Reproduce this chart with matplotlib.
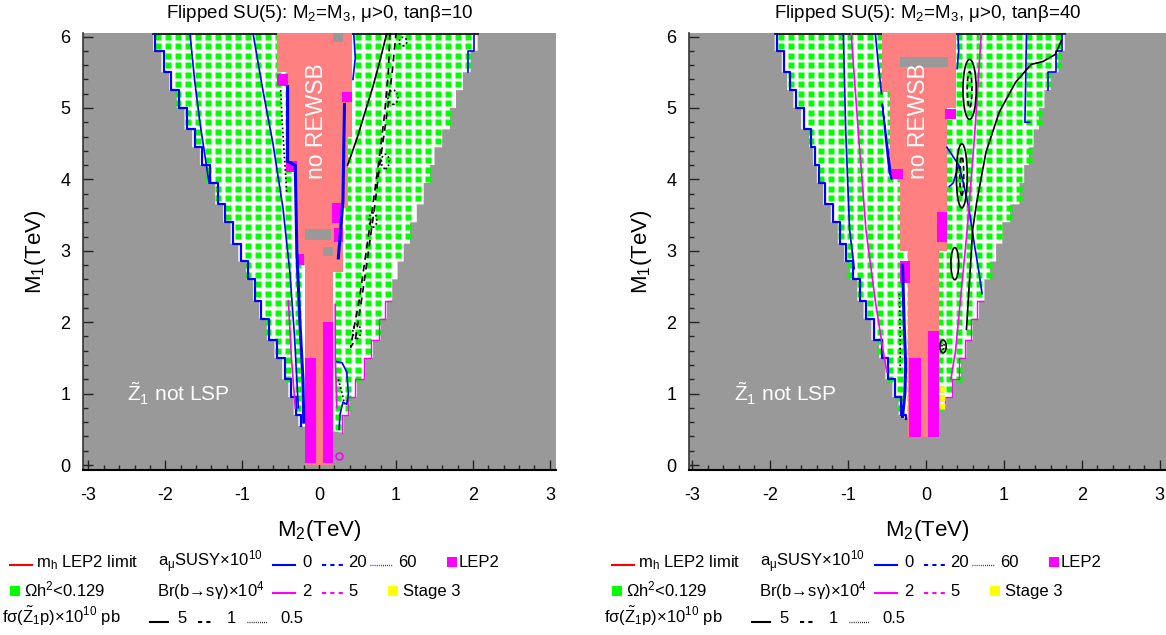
import numpy as np
import matplotlib.pyplot as plt
from matplotlib.patches import Rectangle, Polygon, Ellipse
from matplotlib.lines import Line2D
from matplotlib.path import Path
from matplotlib.ticker import MultipleLocator

plt.rcParams['font.family'] = ['Liberation Sans', 'DejaVu Sans']
plt.rcParams['mathtext.fontset'] = 'custom'
plt.rcParams['mathtext.rm'] = 'Liberation Sans'
plt.rcParams['mathtext.it'] = 'Liberation Sans:italic'
plt.rcParams['mathtext.bf'] = 'Liberation Sans:bold'
plt.rcParams['mathtext.default'] = 'regular'
plt.rcParams['mathtext.fallback'] = 'stixsans'
plt.rcParams['axes.unicode_minus'] = False

GRAY = '#999999'
SALMON = '#ff8080'
MAG = '#ff00ff'
GREEN = '#00ff00'

# staircase levels of the allowed (Z1 LSP) region, M1 in TeV
YS = [6.05, 5.8, 5.5, 5.25, 5.0, 4.7, 4.45, 4.2, 3.95, 3.65, 3.4, 3.1,
      2.85, 2.6, 2.3, 2.05, 1.75, 1.5, 1.2, 0.95, 0.7]

# ---- tan(beta)=10 panel ----
L_xl = [-2.16, -2.05, -1.95, -1.85, -1.75, -1.65, -1.55, -1.45, -1.35, -1.25, -1.15,
        -1.05, -0.95, -0.86, -0.78, -0.68, -0.58, -0.48, -0.40, -0.33, -0.27]
L_xr = [2.06, 1.97, 1.87, 1.78, 1.70, 1.60, 1.50, 1.44, 1.36, 1.27, 1.18,
        1.10, 1.02, 0.95, 0.88, 0.80, 0.70, 0.60, 0.49, 0.40, 0.32]
L_ybot = (0.55, 0.45)
L_salmon_x = [-0.55, -0.55, -0.42, -0.42, -0.29, -0.29, -0.18, -0.18,
              0.18, 0.18, 0.31, 0.31, 0.37, 0.37, 0.43, 0.43]
L_salmon_y = [6.05, 5.5, 5.5, 4.24, 4.24, 2.8, 2.8, 0.0,
              0.0, 2.7, 2.7, 3.6, 3.6, 4.6, 4.6, 6.05]
L_holes = [(0.18, 5.92, 0.13, 0.13), (-0.18, 3.15, 0.33, 0.15), (0.05, 2.92, 0.13, 0.14)]
L_lep2 = [(-0.18, 0.03, 0.14, 1.47), (0.05, 0.03, 0.13, 1.97), (-0.55, 5.31, 0.14, 0.16),
          (-0.43, 4.11, 0.14, 0.15), (0.30, 5.08, 0.13, 0.15), (0.17, 3.39, 0.14, 0.28),
          (0.20, 3.12, 0.11, 0.2), (-0.30, 2.80, 0.10, 0.15)]
L_blue = [([-1.68, -1.62, -1.55, -1.48, -1.43], [6.05, 5.4, 4.8, 4.3, 3.95]),
          ([-0.86, -0.74, -0.6, -0.47, -0.38, -0.32, -0.27], [6.05, 5.3, 4.5, 3.6, 2.7, 1.8, 0.8]),
          ([0.45, 0.47, 0.44], [6.05, 5.7, 5.4]),
          ([0.22, 0.3, 0.36, 0.38, 0.36, 0.31, 0.27, 0.26], [1.45, 1.43, 1.3, 1.0, 0.85, 0.88, 0.7, 0.5]),
          ([2.02, 2.02, 1.93, 1.93], [6.05, 5.8, 5.8, 5.5])]
L_blue_thick = [([-0.41, -0.41, -0.31, -0.29, -0.25, -0.21, -0.2], [5.3, 4.25, 4.2, 3.0, 2.0, 1.2, 0.6]),
                ([0.33, 0.32, 0.31, 0.28, 0.25], [5.05, 4.4, 3.7, 3.3, 2.9])]
L_mag = [([-0.4, -0.36, -0.31], [2.3, 1.5, 0.8]),
         ([0.21, 0.21, 0.23], [2.25, 1.5, 0.8])]
L_black5 = [([0.88, 0.8, 0.7, 0.6, 0.5, 0.42, 0.37], [6.05, 5.7, 5.3, 4.95, 4.6, 4.35, 4.2])]
L_black1 = [([0.92, 0.9, 0.85, 0.77, 0.68, 0.6, 0.52, 0.45, 0.41, 0.47, 0.55, 0.63, 0.72, 0.8, 0.88, 0.95, 1.0],
             [6.05, 5.5, 4.9, 4.2, 3.5, 2.9, 2.3, 1.9, 1.65, 1.75, 2.3, 2.9, 3.6, 4.3, 4.9, 5.5, 6.05])]
L_black05 = [([-0.5, -0.48, -0.45, -0.42], [5.25, 4.8, 4.3, 3.8]),
             ([0.25, 0.3, 0.33], [1.2, 1.0, 0.85])]
L_loops_dot = [(0.96, 5.15, 0.13, 0.2), (0.86, 4.25, 0.1, 0.2), (1.09, 5.93, 0.1, 0.12),
               (0.49, 1.87, 0.1, 0.2), (0.70, 3.43, 0.1, 0.2)]
L_loops_solid = []
L_loops_dash = []
L_stage3 = ([], [])

# ---- tan(beta)=40 panel ----
R_xl = [-1.94, -1.85, -1.78, -1.70, -1.60, -1.50, -1.45, -1.40, -1.32, -1.22, -1.13,
        -1.05, -0.97, -0.88, -0.80, -0.70, -0.60, -0.52, -0.43, -0.35, -0.29]
R_xr = [1.78, 1.70, 1.60, 1.52, 1.45, 1.38, 1.32, 1.26, 1.20, 1.08, 0.98,
        0.90, 0.82, 0.75, 0.68, 0.60, 0.52, 0.45, 0.35, 0.26]
R_ybot = (0.65, 0.8)
R_salmon_x = [-0.56, -0.56, -0.46, -0.46, -0.33, -0.33, -0.23, -0.23,
              0.17, 0.17, 0.27, 0.27, 0.39, 0.39]
R_salmon_y = [6.05, 5.23, 5.23, 4.14, 4.14, 3.0, 3.0, 0.39,
              0.39, 3.0, 3.0, 5.0, 5.0, 6.05]
R_holes = [(-0.33, 5.57, 0.61, 0.14)]
R_lep2 = [(-0.22, 0.39, 0.16, 1.11), (0.03, 0.39, 0.14, 1.48), (-0.43, 4.0, 0.13, 0.14),
          (0.25, 4.84, 0.14, 0.15), (0.14, 3.13, 0.13, 0.42), (-0.33, 2.55, 0.13, 0.3)]
R_blue = [([-1.06, -1.03, -0.98, -0.92], [6.05, 4.7, 3.3, 2.75]),
          ([-0.65, -0.61, -0.57], [6.05, 5.6, 5.2]),
          ([-0.56, -0.44, -0.47, -0.52, -0.56], [5.05, 4.0, 4.1, 4.6, 5.05]),
          ([0.41, 0.42, 0.40], [6.05, 5.8, 5.55]),
          ([0.27, 0.42, 0.35, 0.30], [4.45, 4.2, 3.95, 3.9]),
          ([0.42, 0.47, 0.55, 0.62, 0.68, 0.72], [4.2, 4.0, 3.6, 3.1, 2.7, 2.4]),
          ([1.29, 1.28, 1.27, 1.33], [6.05, 5.4, 4.8, 4.8]),
          ([1.75, 1.75, 1.67, 1.67, 1.57, 1.57], [6.05, 5.8, 5.8, 5.5, 5.5, 5.25])]
R_blue_thick = [([-0.3, -0.28, -0.26, -0.27, -0.3], [2.8, 2.0, 1.4, 1.0, 0.68])]
R_mag = [([-0.96, -0.87, -0.77, -0.65, -0.55, -0.5], [6.05, 4.7, 3.3, 2.3, 1.6, 1.3]),
         ([0.71, 0.63, 0.53, 0.45, 0.38, 0.32], [6.05, 4.7, 3.3, 2.4, 1.6, 1.2])]
R_black5 = [([1.74, 1.66, 1.5, 1.35, 1.15, 0.94, 0.77, 0.65, 0.6, 0.56, 0.52],
             [5.95, 5.75, 5.65, 5.61, 5.36, 4.94, 4.38, 3.67, 3.3, 2.6, 1.9])]
R_black1 = []
R_black05 = [([-0.34, -0.33, -0.33], [2.4, 1.8, 1.3])]
R_loops_solid = [(0.56, 5.26, 0.17, 0.84), (0.46, 4.05, 0.14, 0.9),
                 (0.37, 2.82, 0.1, 0.45), (0.22, 1.66, 0.08, 0.18)]
R_loops_dash = [(0.56, 5.26, 0.06, 0.5), (0.46, 4.05, 0.05, 0.55)]
R_loops_dot = [(0.22, 1.66, 0.03, 0.08)]
R_stage3 = ([0.21, 0.21, 0.21], [1.06, 0.94, 0.83])


def stair(xs, ybot):
    px, py = [], []
    for i, x in enumerate(xs):
        ylow = YS[i + 1] if i + 1 < len(xs) else ybot
        px += [x, x]
        py += [YS[i], ylow]
    return np.array(px), np.array(py)


def draw_panel(ax, title, xlim, p, dx, txt_x, nr_x):
    ax.set_facecolor(GRAY)
    lx, ly = stair(p['xl'], p['ybot'][0])
    rx, ry = stair(p['xr'], p['ybot'][1])
    verts = list(zip(lx, ly)) + list(zip(rx, ry))[::-1]
    ax.add_patch(Polygon(verts, closed=True, fc='white', ec='none', zorder=1))
    # checkered scan points (Omega h^2 < 0.129)
    gx, gy = np.meshgrid(np.arange(-3.0, 3.0, dx), np.arange(6.0, 0.0, -0.1333))
    pts = np.column_stack([gx.ravel(), gy.ravel()])
    inside = Path(verts).contains_points(pts)
    ax.plot(pts[inside, 0], pts[inside, 1], 's', ms=3.7, color=GREEN, mec='none', zorder=2)
    ax.plot([p['xl'][0], p['xr'][0]], [6.04, 6.04], color='black', lw=1.2, zorder=3)
    # boundary contours
    ax.plot(lx + 0.03, ly, color='blue', lw=1.6, zorder=4)
    sel = ry < 2.4
    ax.plot(rx[sel] - 0.02, ry[sel], color=MAG, lw=1, zorder=4)
    # no REWSB region
    ax.add_patch(Polygon(list(zip(p['sx'], p['sy'])), closed=True, fc=SALMON, ec='none', zorder=5))
    for (x0, y0, w, h) in p['holes']:
        ax.add_patch(Rectangle((x0, y0), w, h, fc=GRAY, ec='none', zorder=6))
    for (x0, y0, w, h) in p['lep2']:
        ax.add_patch(Rectangle((x0, y0), w, h, fc=MAG, ec='none', zorder=7))
    for x, y in p['blue']:
        ax.plot(x, y, color='blue', lw=1.2, zorder=8)
    for x, y in p['blue_thick']:
        ax.plot(x, y, color='blue', lw=2.2, zorder=8)
    for x, y in p['mag']:
        ax.plot(x, y, color=MAG, lw=1.2, zorder=8)
    for x, y in p['b5']:
        ax.plot(x, y, color='black', lw=1.2, zorder=8)
    for x, y in p['b1']:
        ax.plot(x, y, color='black', lw=1.2, ls=(0, (4, 3)), zorder=8)
    for x, y in p['b05']:
        ax.plot(x, y, color='black', lw=1.2, ls=(0, (1, 1.5)), zorder=8)
    for style, key in [('-', 'ls'), ((0, (3, 2)), 'ld'), ((0, (1, 1.5)), 'lo')]:
        for (cx, cy, w, h) in p[key]:
            ax.add_patch(Ellipse((cx, cy), w, h, fc='none', ec='black', lw=1.2, ls=style, zorder=9))
    ax.plot(p['st'][0], p['st'][1], 's', ms=4.5, color='yellow', mec='none', zorder=9)

    ax.text(nr_x, 4.82, 'no REWSB', rotation=90, color='white', fontsize=16.5,
            ha='center', va='center', zorder=10)
    ax.text(txt_x, 0.88, r'$\tilde{Z}_1$ not LSP', color='white', fontsize=15,
            ha='left', va='baseline', zorder=10)

    ax.set_xlim(*xlim)
    ax.set_ylim(-0.07, 6.05)
    ax.set_title(title, fontsize=13.5, pad=11)
    ax.set_xlabel('M$_2$(TeV)', fontsize=16, labelpad=10)
    ax.set_ylabel('M$_1$(TeV)', fontsize=16, labelpad=9)
    ax.xaxis.set_major_locator(MultipleLocator(1))
    ax.xaxis.set_minor_locator(MultipleLocator(0.2))
    ax.yaxis.set_major_locator(MultipleLocator(1))
    ax.yaxis.set_minor_locator(MultipleLocator(0.2))
    ax.tick_params(which='both', direction='in', width=1, colors='#222222', labelcolor='black')
    ax.tick_params(which='major', length=7.2, labelsize=13)
    ax.tick_params(axis='x', which='major', pad=12)
    ax.tick_params(axis='y', which='major', pad=9)
    ax.tick_params(which='minor', length=3.8)
    for s in ['top', 'right']:
        ax.spines[s].set_visible(False)
    ax.spines['left'].set_color('#333333')
    ax.spines['left'].set_linewidth(1.2)
    ax.spines['bottom'].set_linewidth(1.5)
    for s in ['left', 'bottom']:
        ax.spines[s].set_zorder(11)


fig = plt.figure(figsize=(11.66, 6.35), dpi=100)
W, H = 1166.0, 635.0
axL = fig.add_axes([83 / W, 1 - 470 / H, (556 - 83) / W, (470 - 33) / H])
axR = fig.add_axes([689 / W, 1 - 470 / H, (1166 - 689) / W, (470 - 33) / H])

pL = dict(xl=L_xl, xr=L_xr, ybot=L_ybot, sx=L_salmon_x, sy=L_salmon_y, holes=L_holes,
          lep2=L_lep2, blue=L_blue, blue_thick=L_blue_thick, mag=L_mag, b5=L_black5,
          b1=L_black1, b05=L_black05, ls=L_loops_solid, ld=L_loops_dash, lo=L_loops_dot,
          st=L_stage3)
pR = dict(xl=R_xl, xr=R_xr, ybot=R_ybot, sx=R_salmon_x, sy=R_salmon_y, holes=R_holes,
          lep2=R_lep2, blue=R_blue, blue_thick=R_blue_thick, mag=R_mag, b5=R_black5,
          b1=R_black1, b05=R_black05, ls=R_loops_solid, ld=R_loops_dash, lo=R_loops_dot,
          st=R_stage3)

draw_panel(axL, 'Flipped SU(5): M$_2$=M$_3$, μ>0, tanβ=10', (-3.07, 3.08), pL, 0.13, -2.5, -0.03)
axL.plot([0.26], [0.13], 'o', ms=5, mfc=GRAY, mec=MAG, mew=1.2, zorder=9)
draw_panel(axR, 'Flipped SU(5): M$_2$=M$_3$, μ>0, tanβ=40', (-3.04, 3.08), pR, 0.127, -2.46, -0.09)


# legend drawn in figure pixels below each panel
def fx(px):
    return px / W


def fy(py):
    return 1 - py / H


def leg_line(x0, x1, y, color, ls, lw=1.5):
    fig.add_artist(Line2D([fx(x0), fx(x1)], [fy(y), fy(y)], color=color, ls=ls, lw=lw,
                          transform=fig.transFigure))


def leg_box(x0, y, color):
    fig.add_artist(Rectangle((fx(x0), fy(y + 5)), 10 / W, 10 / H, fc=color, ec='none',
                             transform=fig.transFigure))


def leg_text(x, y, s):
    fig.text(fx(x), fy(y), s, fontsize=12, ha='left', va='baseline')


dash = (0, (2, 2))
dots = (0, (0.6, 0.9))
for off in (0, 602):
    leg_line(10 + off, 32 + off, 565, 'red', '-')
    leg_text(36 + off, 567, 'm$_h$ LEP2 limit')
    leg_text(158 + off, 567, 'a$_μ$SUSY×10$^{10}$')
    leg_line(273 + off, 295 + off, 565, 'blue', '-')
    leg_text(302 + off, 567, '0')
    leg_line(322 + off, 343 + off, 565, 'blue', dash)
    leg_text(348 + off, 567, '20')
    leg_line(370 + off, 392 + off, 565, 'blue', dots, 1)
    leg_text(398 + off, 567, '60')
    leg_box(447 + off, 562, MAG)
    leg_text(459 + off, 567, 'LEP2')

    leg_box(10 + off, 591, GREEN)
    leg_text(24 + off, 596, 'Ωh$^2$<0.129')
    leg_text(157 + off, 596, r'Br(b$\!\rightarrow\!$sγ)×10$^4$')
    leg_line(273 + off, 295 + off, 593, MAG, '-')
    leg_text(302 + off, 596, '2')
    leg_line(322 + off, 343 + off, 593, MAG, dash)
    leg_text(348 + off, 596, '5')
    leg_box(388 + off, 591, 'yellow')
    leg_text(403 + off, 596, 'Stage 3')

    leg_text(2 + off, 623, r'fσ($\tilde{Z}_1$p)×10$^{10}$ pb')
    leg_line(150 + off, 168 + off, 622, 'black', '-')
    leg_text(177 + off, 623, '5')
    leg_line(198 + off, 213 + off, 622, 'black', dash)
    leg_text(227 + off, 623, '1')
    leg_line(247 + off, 267 + off, 622, 'black', dots, 1)
    leg_text(280 + off, 623, '0.5')

fig.savefig('out.png', dpi=100)
